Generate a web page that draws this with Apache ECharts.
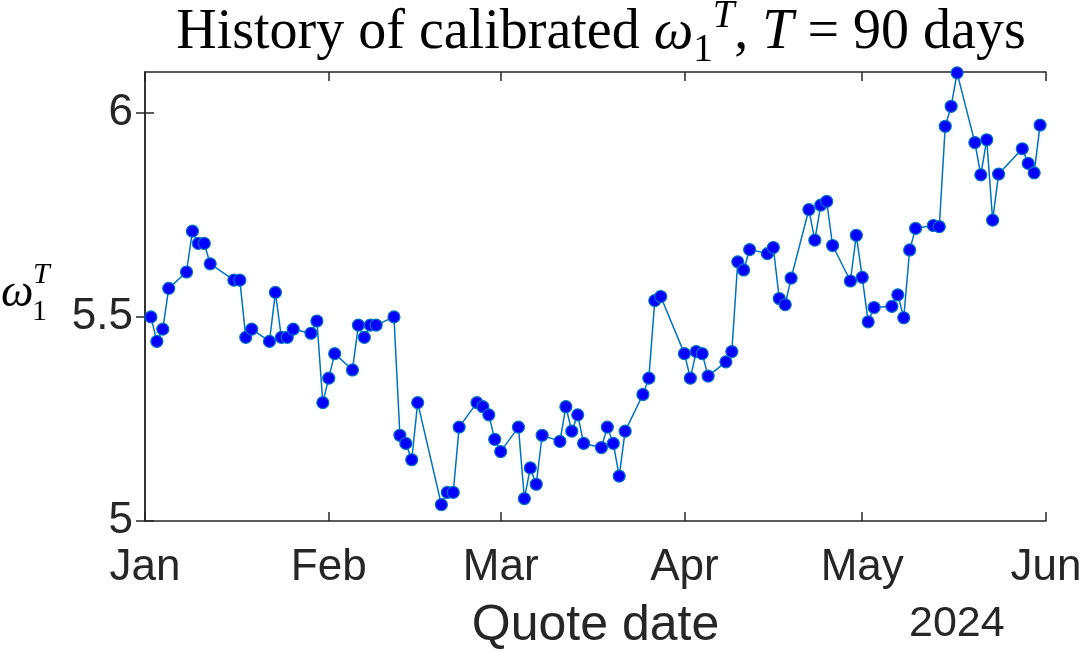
<!DOCTYPE html>
<html>
<head>
<meta charset="utf-8">
<script src="https://cdn.jsdelivr.net/npm/echarts@6/dist/echarts.min.js"></script>
<style>
  html, body { margin: 0; padding: 0; background: #fff; }
  #chart { width: 1080px; height: 653px; }
</style>
</head>
<body>
<div id="chart"></div>
<script>
// quote dates (trading days, 2024) and calibrated omega_1^T values
const quoteDates = [
  '2024-01-02', '2024-01-03', '2024-01-04', '2024-01-05', '2024-01-08', '2024-01-09', '2024-01-10',
  '2024-01-11', '2024-01-12', '2024-01-16', '2024-01-17', '2024-01-18', '2024-01-19', '2024-01-22',
  '2024-01-23', '2024-01-24', '2024-01-25', '2024-01-26', '2024-01-29', '2024-01-30', '2024-01-31',
  '2024-02-01', '2024-02-02', '2024-02-05', '2024-02-06', '2024-02-07', '2024-02-08', '2024-02-09',
  '2024-02-12', '2024-02-13', '2024-02-14', '2024-02-15', '2024-02-16', '2024-02-20', '2024-02-21',
  '2024-02-22', '2024-02-23', '2024-02-26', '2024-02-27', '2024-02-28', '2024-02-29',
  '2024-03-01', '2024-03-04', '2024-03-05', '2024-03-06', '2024-03-07', '2024-03-08', '2024-03-11',
  '2024-03-12', '2024-03-13', '2024-03-14', '2024-03-15', '2024-03-18', '2024-03-19', '2024-03-20',
  '2024-03-21', '2024-03-22', '2024-03-25', '2024-03-26', '2024-03-27', '2024-03-28',
  '2024-04-01', '2024-04-02', '2024-04-03', '2024-04-04', '2024-04-05', '2024-04-08', '2024-04-09',
  '2024-04-10', '2024-04-11', '2024-04-12', '2024-04-15', '2024-04-16', '2024-04-17', '2024-04-18',
  '2024-04-19', '2024-04-22', '2024-04-23', '2024-04-24', '2024-04-25', '2024-04-26', '2024-04-29',
  '2024-04-30',
  '2024-05-01', '2024-05-02', '2024-05-03', '2024-05-06', '2024-05-07', '2024-05-08', '2024-05-09',
  '2024-05-10', '2024-05-13', '2024-05-14', '2024-05-15', '2024-05-16', '2024-05-17', '2024-05-20',
  '2024-05-21', '2024-05-22', '2024-05-23', '2024-05-24', '2024-05-28', '2024-05-29', '2024-05-30',
  '2024-05-31'
];
const omegaValues = [
  5.50, 5.44, 5.47, 5.57, 5.61, 5.71, 5.68,
  5.68, 5.63, 5.59, 5.59, 5.45, 5.47, 5.44,
  5.56, 5.45, 5.45, 5.47, 5.46, 5.49, 5.29,
  5.35, 5.41, 5.37, 5.48, 5.45, 5.48, 5.48,
  5.50, 5.21, 5.19, 5.15, 5.29, 5.04, 5.07,
  5.07, 5.23, 5.29, 5.28, 5.26, 5.20,
  5.17, 5.23, 5.055, 5.13, 5.09, 5.21, 5.195,
  5.28, 5.22, 5.26, 5.19, 5.18, 5.23, 5.19,
  5.11, 5.22, 5.31, 5.35, 5.54, 5.55,
  5.41, 5.35, 5.415, 5.41, 5.355, 5.39, 5.415,
  5.635, 5.615, 5.665, 5.655, 5.67, 5.545, 5.53,
  5.595, 5.763, 5.688, 5.774, 5.783, 5.675, 5.588,
  5.70,
  5.597, 5.488, 5.523, 5.526, 5.554, 5.498, 5.664,
  5.717, 5.724, 5.721, 5.967, 6.016, 6.098, 5.927,
  5.848, 5.934, 5.737, 5.85, 5.912, 5.876, 5.853,
  5.97
];
// axis ticks
const monthTicks = ['2024-01-01', '2024-02-01', '2024-03-01', '2024-04-01', '2024-05-01', '2024-06-01'];
const monthLabels = ['Jan', 'Feb', 'Mar', 'Apr', 'May', 'Jun'];
const yTicks = [5, 5.5, 6];

// day number since 2024-01-01 (x axis works in days)
function dayNum(s) {
  const p = s.split('-');
  return Math.round((Date.UTC(+p[0], +p[1] - 1, +p[2]) - Date.UTC(2024, 0, 1)) / 86400000);
}

const tickDays = monthTicks.map(dayNum);
const seriesData = quoteDates.map((d, i) => [dayNum(d), omegaValues[i]]);

const chart = echarts.init(document.getElementById('chart'));

const axisCol = '#262626';
const sansFont = '"Liberation Sans", Arial, sans-serif';
const serifFont = '"Liberation Serif", "DejaVu Serif", serif';

// rich text styles for the title (omega_1^T inline)
function mathRich(size) {
  const sm = Math.round(size * 0.7);
  const lh = Math.round(size * 1.3);
  return {
    a: { fontFamily: serifFont, fontWeight: 'normal', fontSize: size, color: '#000', lineHeight: lh },
    w: { fontFamily: serifFont, fontWeight: 'normal', fontStyle: 'italic', fontSize: size, color: '#000', lineHeight: lh },
    i: { fontFamily: serifFont, fontWeight: 'normal', fontStyle: 'italic', fontSize: size, color: '#000', lineHeight: lh },
    sub: { fontFamily: serifFont, fontWeight: 'normal', fontSize: sm, color: '#000', verticalAlign: 'bottom', lineHeight: lh },
    sup: { fontFamily: serifFont, fontWeight: 'normal', fontStyle: 'italic', fontSize: sm, color: '#000', verticalAlign: 'top', lineHeight: lh }
  };
}

chart.setOption({
  backgroundColor: '#fff',
  animation: false,
  title: {
    text: '{a|History of calibrated }{w|ω}{sub|1}{sup|T}{a|, }{i|T}{a| = 90 days}',
    left: 596,
    top: -8,
    textAlign: 'center',
    textStyle: { fontWeight: 'normal', rich: mathRich(56) }
  },
  grid: { left: 145, right: 34, top: 72, bottom: 132, containLabel: false, outerBoundsMode: 'none' },
  xAxis: [
    {
      type: 'value',
      min: tickDays[0],
      max: tickDays[tickDays.length - 1],
      name: 'Quote date',
      nameLocation: 'middle',
      nameGap: 80,
      nameTextStyle: { fontFamily: sansFont, fontSize: 50, color: axisCol },
      axisLine: { show: true, lineStyle: { color: axisCol, width: 1.5 } },
      axisTick: { show: true, inside: true, length: 9, customValues: tickDays, lineStyle: { color: axisCol, width: 1.5 } },
      axisLabel: {
        customValues: tickDays,
        margin: 25,
        fontFamily: sansFont,
        fontSize: 44,
        color: axisCol,
        formatter: function (v) { return monthLabels[tickDays.indexOf(v)] || ''; }
      },
      splitLine: { show: false }
    },
    {
      type: 'value',
      position: 'top',
      min: tickDays[0],
      max: tickDays[tickDays.length - 1],
      axisLine: { show: true, lineStyle: { color: axisCol, width: 1.5 } },
      axisTick: { show: true, inside: true, length: 9, customValues: tickDays, lineStyle: { color: axisCol, width: 1.5 } },
      axisLabel: { show: false },
      splitLine: { show: false }
    }
  ],
  yAxis: [
    {
      type: 'value',
      min: 5,
      max: 6.1,
      axisLine: { show: true, lineStyle: { color: axisCol, width: 1.5 } },
      axisTick: { show: true, inside: true, length: 9, customValues: yTicks, lineStyle: { color: axisCol, width: 1.5 } },
      axisLabel: { customValues: yTicks, margin: 12, fontFamily: sansFont, fontSize: 44, color: axisCol },
      splitLine: { show: false }
    },
    {
      type: 'value',
      position: 'right',
      min: 5,
      max: 6.1,
      axisLine: { show: true, lineStyle: { color: axisCol, width: 1.5 } },
      axisTick: { show: true, inside: true, length: 9, customValues: yTicks, lineStyle: { color: axisCol, width: 1.5 } },
      axisLabel: { show: false },
      splitLine: { show: false }
    }
  ],
  graphic: [
    // y axis label: omega with stacked sub/superscript
    { type: 'text', x: 1, y: 294, style: { text: 'ω', font: 'italic 46px "Liberation Serif", serif', fill: '#000', verticalAlign: 'middle' } },
    { type: 'text', x: 33, y: 275, style: { text: 'T', font: 'italic 30px "Liberation Serif", serif', fill: '#000', verticalAlign: 'middle' } },
    { type: 'text', x: 32, y: 312, style: { text: '1', font: '30px "Liberation Serif", serif', fill: '#000', verticalAlign: 'middle' } },
    {
      type: 'text',
      left: 909,
      top: 603,
      style: { text: '2024', font: '43px "Liberation Sans", Arial, sans-serif', fill: axisCol }
    }
  ],
  series: [
    {
      type: 'line',
      xAxisIndex: 0,
      yAxisIndex: 0,
      data: seriesData,
      showAllSymbol: true,
      symbol: 'circle',
      symbolSize: 12,
      lineStyle: { color: '#0072BD', width: 1.5 },
      itemStyle: { color: '#0000FF', borderColor: '#0072BD', borderWidth: 1.2 },
      clip: false
    }
  ]
});
</script>
</body>
</html>
